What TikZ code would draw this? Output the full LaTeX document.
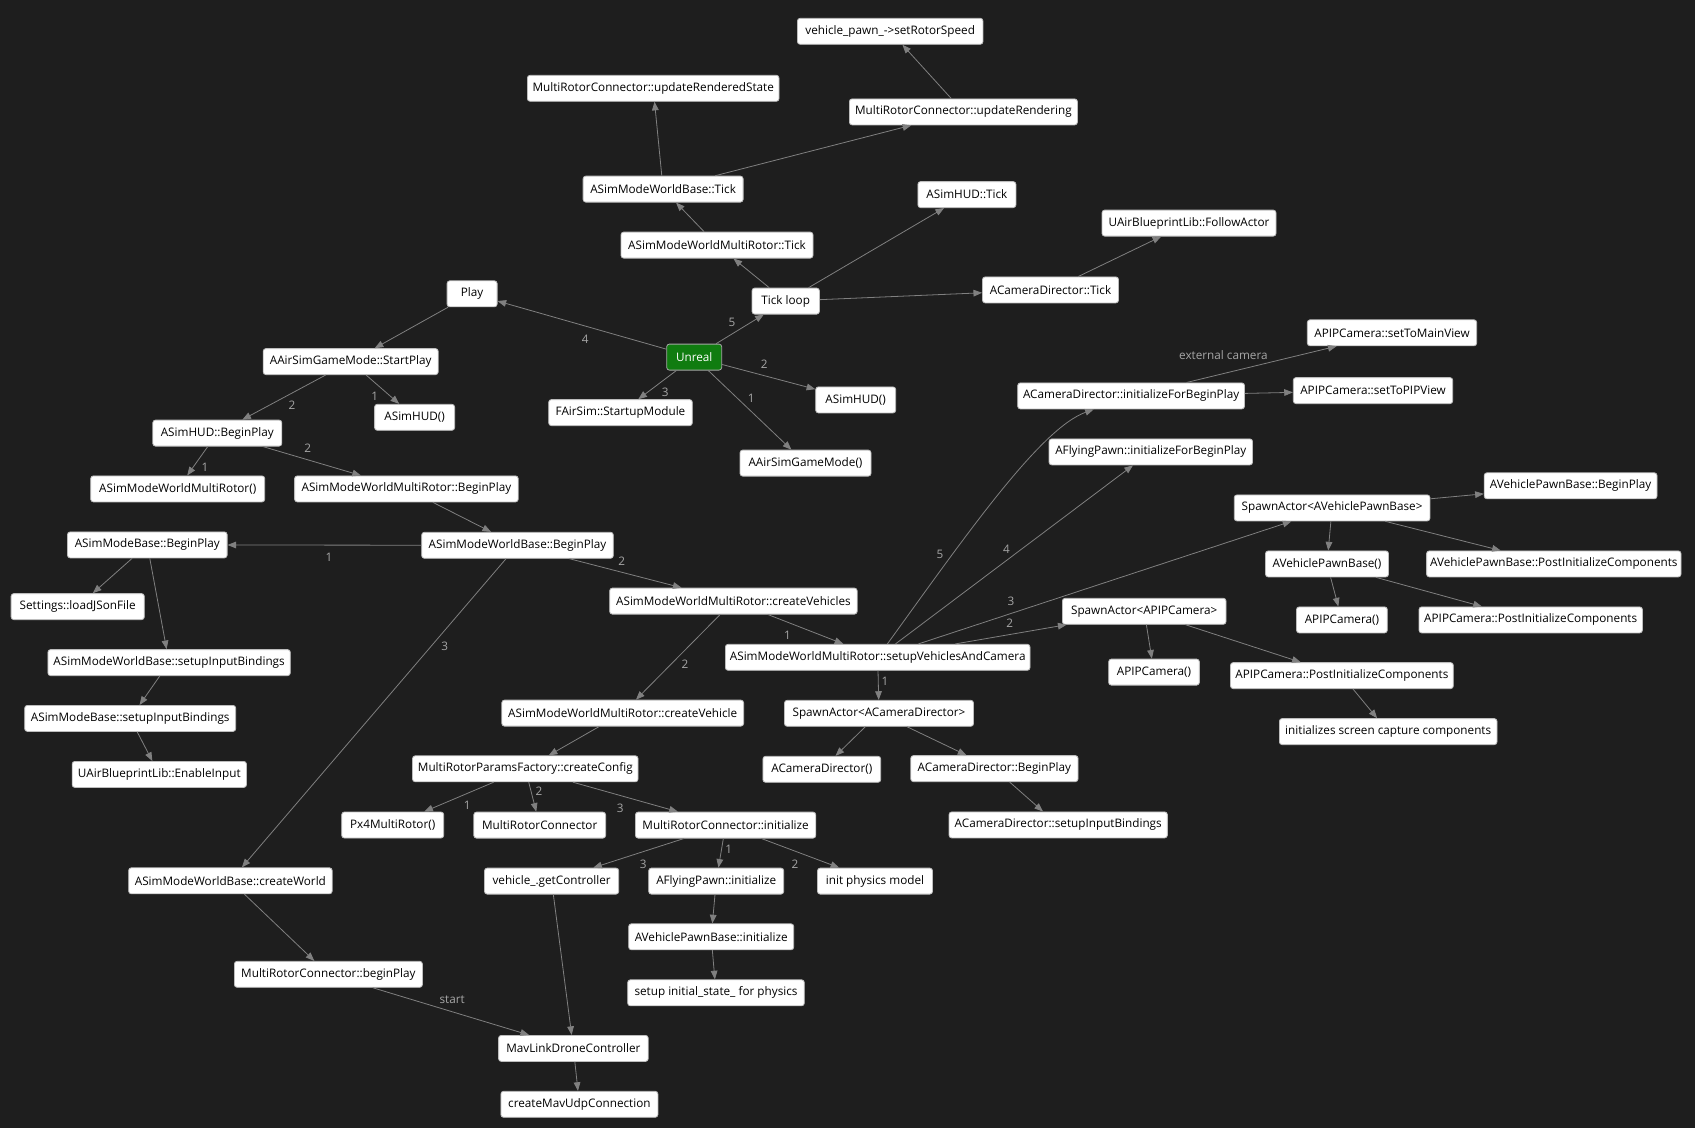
\documentclass[tikz,border=0pt]{standalone}
\usepackage{fontspec}
\setmainfont{Open Sans}
\usetikzlibrary{arrows.meta,calc}
\definecolor{bg}{HTML}{1E1E1E}
\definecolor{edgec}{HTML}{808080}
\definecolor{lblc}{HTML}{A6A6A6}
\definecolor{nodeb}{HTML}{BDBDBD}
\definecolor{ugreen}{HTML}{107C10}
\begin{document}
\begin{tikzpicture}[x=0.75pt,y=-0.75pt,
  n/.style={draw=nodeb, fill=white, rounded corners=2pt, line width=0.6pt, minimum height=19.5pt, inner xsep=1.5pt, inner ysep=0pt, text=black, font=\fontsize{8.8}{10}\selectfont},
  w/.style={minimum width=#1*0.75pt},
  start/.style={n, fill=ugreen, draw=lblc, text=white},
  e/.style={draw=edgec, line width=0.6pt, -{Triangle[length=6.5pt,width=5pt]}},
  lbl/.style={text=lblc, font=\fontsize{8.8}{10}\selectfont, inner sep=0pt}]
\fill[bg] (0,0) rectangle (1695,1128);
\useasboundingbox (0,0) rectangle (1695,1128);
\begin{scope}[yshift=-1.2pt]
% nodes
\node[n,w=185.5] (vps) at (890.2,29.7) {vehicle\_pawn\_->setRotorSpeed};
\node[n,w=251.6] (urs) at (653.2,86.7) {MultiRotorConnector::updateRenderedState};
\node[n,w=228] (urd) at (963.4,110.3) {MultiRotorConnector::updateRendering};
\node[n,w=160] (swbt) at (663.1,187.5) {ASimModeWorldBase::Tick};
\node[n,w=98] (hudt) at (966.9,193) {ASimHUD::Tick};
\node[n,w=174] (fa) at (1189,221.5) {UAirBlueprintLib::FollowActor};
\node[n,w=192] (swmt) at (717,243.5) {ASimModeWorldMultiRotor::Tick};
\node[n,w=50] (play) at (472.1,292.2) {Play};
\node[n,w=67.4] (tick) at (785.7,299.5) {Tick loop};
\node[n,w=136] (acdt) at (1050.5,288.3) {ACameraDirector::Tick};
\node[n,w=169.3] (mv) at (1392,331.2) {APIPCamera::setToMainView};
\node[n,w=175] (sp) at (350.7,360) {AAirSimGameMode::StartPlay};
\node[start,w=55] (unreal) at (694.2,355.5) {Unreal};
\node[n,w=226.8] (acdi) at (1131.1,394.3) {ACameraDirector::initializeForBeginPlay};
\node[n,w=159.4] (pip) at (1373,389) {APIPCamera::setToPIPView};
\node[n,w=80] (hud1) at (414.6,415.7) {ASimHUD()};
\node[n,w=143.6] (fsm) at (620.5,411) {FAirSim::StartupModule};
\node[n,w=80] (hud2) at (855.7,398.3) {ASimHUD()};
\node[n,w=129] (hbp) at (217.3,431.5) {ASimHUD::BeginPlay};
\node[n,w=131] (gm) at (805.5,461.5) {AAirSimGameMode()};
\node[n,w=203.5] (afp) at (1150.8,450.3) {AFlyingPawn::initializeForBeginPlay};
\node[n,w=172.8] (vpbbp) at (1570.6,484.2) {AVehiclePawnBase::BeginPlay};
\node[n,w=174] (mrc) at (177.7,487.3) {ASimModeWorldMultiRotor()};
\node[n,w=223.6] (mrbp) at (406.4,487.3) {ASimModeWorldMultiRotor::BeginPlay};
\node[n,w=195.7] (sa1) at (1332.1,506.3) {SpawnActor<AVehiclePawnBase>};
\node[n,w=159.6] (smb) at (147.3,543.3) {ASimModeBase::BeginPlay};
\node[n,w=191.6] (swb) at (517.5,543.7) {ASimModeWorldBase::BeginPlay};
\node[n,w=123] (vpbc) at (1327,562.3) {AVehiclePawnBase()};
\node[n,w=254.4] (vpbpic) at (1553.8,562.3) {AVehiclePawnBase::PostInitializeComponents};
\node[n,w=247.5] (cvs) at (733.4,599.5) {ASimModeWorldMultiRotor::createVehicles};
\node[n,w=133.2] (set) at (77.7,605) {Settings::loadJSonFile};
\node[n,w=163.6] (sa2) at (1144.2,609.7) {SpawnActor<APIPCamera>};
\node[n,w=90.8] (pc1) at (1341.9,618.3) {APIPCamera()};
\node[n,w=223.4] (pic1) at (1530.7,618.3) {APIPCamera::PostInitializeComponents};
\node[n,w=304.6] (sv) at (877.7,655.7) {ASimModeWorldMultiRotor::setupVehiclesAndCamera};
\node[n,w=242.4] (swbib) at (169.1,661) {ASimModeWorldBase::setupInputBindings};
\node[n,w=90.7] (pc2) at (1154,670.5) {APIPCamera()};
\node[n,w=222.8] (pic2) at (1341.9,674) {APIPCamera::PostInitializeComponents};
\node[n,w=241.8] (cv) at (622.7,711.5) {ASimModeWorldMultiRotor::createVehicle};
\node[n,w=189] (sa3) at (879,711.7) {SpawnActor<ACameraDirector>};
\node[n,w=211] (smbib) at (130.2,716.8) {ASimModeBase::setupInputBindings};
\node[n,w=217.6] (isc) at (1388.2,730) {initializes screen capture components};
\node[n,w=174.3] (ei) at (159.3,772.8) {UAirBlueprintLib::EnableInput};
\node[n,w=225.5] (cc) at (525.3,767.2) {MultiRotorParamsFactory::createConfig};
\node[n,w=117.8] (acdc) at (821.8,767.7) {ACameraDirector()};
\node[n,w=167.3] (acdbp) at (994.4,767) {ACameraDirector::BeginPlay};
\node[n,w=102] (px4) at (392.7,823.4) {Px4MultiRotor()};
\node[n,w=131.8] (mrconn) at (539.7,823.5) {MultiRotorConnector};
\node[n,w=180.3] (mri) at (725.6,823.5) {MultiRotorConnector::initialize};
\node[n,w=218.3] (acdib) at (1058.2,823.3) {ACameraDirector::setupInputBindings};
\node[n,w=203.5] (cw) at (230.4,879.2) {ASimModeWorldBase::createWorld};
\node[n,w=134.2] (gc) at (551.6,879.5) {vehicle\_.getController};
\node[n,w=135] (afi) at (716.2,879.5) {AFlyingPawn::initialize};
\node[n,w=115] (ipm) at (875,879.5) {init physics model};
\node[n,w=165] (vpbi) at (711.2,935.2) {AVehiclePawnBase::initialize};
\node[n,w=188] (mrbp2) at (328.4,972.7) {MultiRotorConnector::beginPlay};
\node[n,w=176.6] (sis) at (716,991.2) {setup initial\_state\_ for physics};
\node[n,w=149.6] (mav) at (573.4,1046.8) {MavLinkDroneController};
\node[n,w=157] (udp) at (579.4,1102.7) {createMavUdpConnection};
% edges
\draw[e] (unreal) -- (play);
\draw[e] (unreal) -- (tick);
\draw[e] (unreal) -- (fsm);
\draw[e] (unreal) -- (hud2);
\draw[e] (unreal) -- (gm);
\draw[e] (play) -- (sp);
\draw[e] (sp) -- (hud1);
\draw[e] (sp) -- (hbp);
\draw[e] (hbp) -- (mrc);
\draw[e] (hbp) -- (mrbp);
\draw[e] (mrbp) -- (swb);
\draw[e] (swb) -- (smb);
\draw[e] (swb) -- (cvs);
\draw[e] (swb) -- (cw);
\draw[e] (smb) -- (set);
\draw[e] (smb) -- (swbib);
\draw[e] (swbib) -- (smbib);
\draw[e] (smbib) -- (ei);
\draw[e] (cvs) -- (sv);
\draw[e] (cvs) -- (cv);
\draw[e] (sv) -- (sa3);
\draw[e] (sv) -- (sa2);
\draw[e] (sv) -- (sa1);
\draw[e] (sv) -- (afp);
\draw[e] (sv) .. controls (965,535) and (1040,427) .. (acdi);
\draw[e] (sa3) -- (acdc);
\draw[e] (sa3) -- (acdbp);
\draw[e] (acdbp) -- (acdib);
\draw[e] (sa1) -- (vpbbp);
\draw[e] (sa1) -- (vpbc);
\draw[e] (sa1) -- (vpbpic);
\draw[e] (vpbc) -- (pc1);
\draw[e] (vpbc) -- (pic1);
\draw[e] (sa2) -- (pc2);
\draw[e] (sa2) -- (pic2);
\draw[e] (pic2) -- (isc);
\draw[e] (acdi) -- (mv);
\draw[e] (acdi) -- (pip);
\draw[e] (cv) -- (cc);
\draw[e] (cc) -- (px4);
\draw[e] (cc) -- (mrconn);
\draw[e] (cc) -- (mri);
\draw[e] (mri) -- (afi);
\draw[e] (mri) -- (ipm);
\draw[e] (mri) -- (gc);
\draw[e] (afi) -- (vpbi);
\draw[e] (vpbi) -- (sis);
\draw[e] (gc) -- (mav);
\draw[e] (cw) -- (mrbp2);
\draw[e] (mrbp2) -- (mav);
\draw[e] (mav) -- (udp);
\draw[e] (tick) -- (swmt);
\draw[e] (tick) -- (hudt);
\draw[e] (tick) -- (acdt);
\draw[e] (swmt) -- (swbt);
\draw[e] (swbt) -- (urs);
\draw[e] (swbt) -- (urd);
\draw[e] (urd) -- (vps);
\draw[e] (acdt) -- (fa);
% labels
\node[lbl] (lu4) at (585.3,337.7) {4};
\node[lbl] (lu5) at (732,320.7) {5};
\node[lbl] (lu3) at (665.3,390.7) {3};
\node[lbl] (lu2) at (764.3,362.3) {2};
\node[lbl] (lu1) at (751.3,396.7) {1};
\node[lbl] (ls1) at (374.6,394.3) {1};
\node[lbl] (ls2) at (292,404) {2};
\node[lbl] (lh1) at (205,465.7) {1};
\node[lbl] (lh2) at (307.8,446.7) {2};
\node[lbl] (lw1) at (328.9,555.7) {1};
\node[lbl] (lw2) at (621.7,559.3) {2};
\node[lbl] (lw3) at (444.6,645) {3};
\node[lbl] (lc1) at (787.5,633.3) {1};
\node[lbl] (lc2) at (685,662.3) {2};
\node[lbl] (lv1) at (885,679.3) {1};
\node[lbl] (lv2) at (1009.7,621.7) {2};
\node[lbl] (lv3) at (1011,599.3) {3};
\node[lbl] (lv4) at (1006.5,547.3) {4};
\node[lbl] (lv5) at (939.9,552.7) {5};
\node[lbl] (lf1) at (467.1,803.3) {1};
\node[lbl] (lf2) at (538.9,790) {2};
\node[lbl] (lf3) at (620.3,806.7) {3};
\node[lbl] (li1) at (728.6,847.3) {1};
\node[lbl] (li3) at (643.2,862.7) {3};
\node[lbl] (li2) at (795,862.7) {2};
\node[lbl] (lext) at (1223.4,353.3) {external camera};
\node[lbl] (lstart) at (452.2,998.3) {start};
\end{scope}
\end{tikzpicture}
\end{document}
